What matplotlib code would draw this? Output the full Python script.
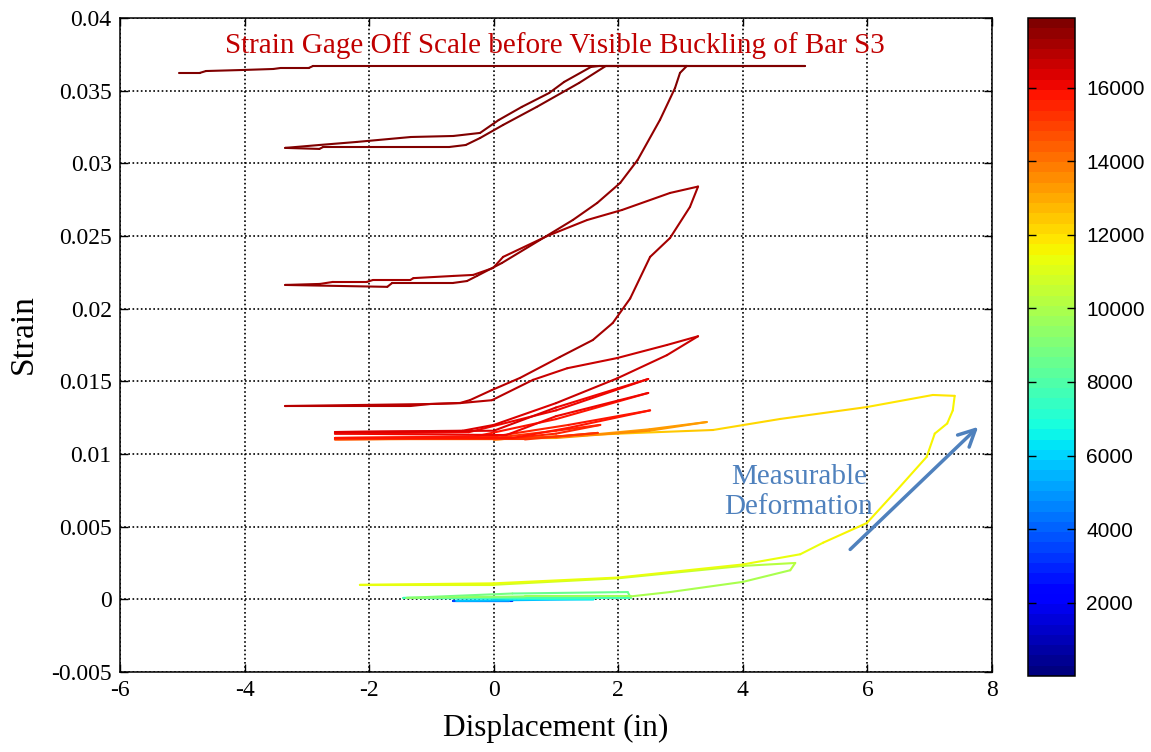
import numpy as np
import matplotlib
matplotlib.use('Agg')
import matplotlib.pyplot as plt
from matplotlib.collections import LineCollection
from matplotlib.colors import Normalize
from matplotlib.cm import ScalarMappable

plt.rcParams['font.family'] = 'Liberation Serif'
plt.rcParams['axes.unicode_minus'] = False

# --- path of the test (displacement in, strain, time step) ---
# early small cycles, blue -> green
early_disp = [0.0, 0.3, -0.65, 0.25, -0.6, 1.6, -1.45, 2.2, 2.15, 0.3, -1.4, 0.5, 2.2]
early_strain = [0.0, -0.0001, -0.0001, -0.0001, -0.0001, 0.0, 0.0001, 0.0001, 0.0005,
                0.0004, 0.0001, 0.0002, 0.0002]
early_step = [0, 1500, 3000, 4200, 5200, 6300, 7300, 8300, 8500, 8800, 9100, 9400, 9700]

# green/yellow loops and the large excursion to 7.4 in
mid_disp = [2.83, 4.0, 4.76, 4.84, 4.0, 2.0, 0.0, -2.15, 0.0, 2.0, 4.0, 4.92, 5.29, 5.99,
            6.47, 6.95, 7.08, 7.28, 7.37, 7.40, 7.05, 5.99, 4.6, 3.52, 2.24, 1.17, 0.0, -2.5]
mid_strain = [0.0005, 0.0012, 0.0020, 0.0025, 0.0023, 0.00145, 0.0010, 0.0010, 0.0011,
              0.0015, 0.0024, 0.0031, 0.0039, 0.00525, 0.0075, 0.0098, 0.0114, 0.0121,
              0.0130, 0.0140, 0.01406, 0.01323, 0.01241, 0.01165, 0.01144, 0.01124,
              0.0110, 0.0110]
mid_step = [9900, 10000, 10100, 10200, 10400, 10700, 10950, 11150, 11250, 11350, 11400,
            11450, 11480, 11520, 11560, 11600, 11640, 11680, 11720, 11760, 11850, 12000,
            12150, 12300, 12450, 12600, 12750, 12900]

# orange and red cycles between -2.5 and 2.5 in
red_disp = [0.0, 1.5, 2.5, 3.42, 2.5, 1.0, -2.55,
            0.0, 1.0, 1.67, 0.5, -2.55,
            0.0, 1.0, 1.71, 1.0, 0.3, -2.55,
            0.0, 1.2, 2.51, 1.2, 0.3, -2.55,
            -0.3, 1.0, 2.48, 1.0, 0.2, -2.55,
            -0.4, 1.0, 2.48, 1.0, 0.0, -2.55]
red_strain = [0.0110, 0.0113, 0.0117, 0.0122, 0.0116, 0.0111, 0.0110,
              0.0110, 0.0112, 0.01145, 0.0110, 0.0110,
              0.0111, 0.0116, 0.0120, 0.0114, 0.0111, 0.0111,
              0.0112, 0.0120, 0.0130, 0.0118, 0.0111, 0.0111,
              0.0112, 0.0124, 0.0142, 0.0126, 0.0113, 0.0114,
              0.0115, 0.0130, 0.01516, 0.0132, 0.0116, 0.01151]
red_step = [13000, 13100, 13200, 13300, 13400, 13550, 13800,
            15000, 15100, 15150, 15200, 15300,
            15350, 15400, 15450, 15480, 15520, 15550,
            15600, 15650, 15700, 15730, 15760, 15800,
            15850, 15900, 15950, 15980, 16010, 16050,
            16100, 16150, 16200, 16230, 16260, 16300]

# large loops, dark red, up to gage limit
big_disp = [-0.5, 0.0, 1.0, 1.98, 2.78, 3.28, 2.78, 1.98, 1.18, 0.63, -0.03, -0.54, -1.0, -3.35,
            -1.34, -1.02, -0.54, -0.38, -0.03, 0.42, 1.06, 1.59, 1.91, 2.19, 2.51, 2.83, 3.15, 3.28,
            2.83, 2.06, 1.5, 0.86, 0.15, -0.01, -0.33, -0.65, -1.29, -1.34, -1.94, -2.04, -2.58,
            -2.79, -3.35,
            -1.71, -1.63, -0.65, -0.43, -0.27, 0.13, 0.74, 1.27, 1.66, 2.03, 2.31, 2.67, 2.91,
            2.99, 3.1]
big_strain = [0.0116, 0.0120, 0.0135, 0.0152, 0.0168, 0.0181, 0.0175, 0.0166, 0.0159, 0.0151,
              0.0137, 0.0135, 0.01344, 0.0133,
              0.0133, 0.01344, 0.01351, 0.01371, 0.0144, 0.01523, 0.01667, 0.01784, 0.01901,
              0.0207, 0.02356, 0.02486, 0.0270, 0.0284,
              0.02796, 0.02679, 0.0261, 0.0250, 0.02356, 0.0228, 0.02232, 0.02225, 0.0221,
              0.02197, 0.02197, 0.02184, 0.02184, 0.0217, 0.02163,
              0.0215, 0.02177, 0.02177, 0.0219, 0.02225, 0.02314, 0.02472, 0.0261, 0.02727,
              0.02865, 0.03023, 0.0330, 0.03518, 0.03622, 0.0367]
big_step = [16350, 16400, 16500, 16600, 16650, 16700, 16720, 16740, 16760, 16780, 16800,
            16820, 16840, 16900,
            16940, 16960, 16980, 17000, 17020, 17040, 17060, 17080, 17100, 17120, 17140, 17160,
            17180, 17200,
            17210, 17220, 17230, 17240, 17250, 17260, 17270, 17280, 17290, 17300, 17310, 17320,
            17330, 17340, 17350,
            17380, 17400, 17420, 17440, 17460, 17480, 17500, 17520, 17540, 17560, 17580, 17600,
            17620, 17640, 17660]

# gage off scale at the top
top_disp = [1.80, 1.37, 0.69, 0.15, -0.22, -0.45, -0.72, -2.74, -2.8, -3.35,
            -2.8, -2.2, -1.33, -0.65, -0.22, 0.08, 0.45, 0.89, 1.13, 1.56, 1.7, 5.0,
            -2.9, -2.97, -3.42, -3.54, -4.04, -4.62, -4.72, -5.05]
top_strain = [0.0367, 0.03553, 0.03388, 0.03264, 0.03174, 0.03126, 0.03112, 0.03112, 0.03099,
              0.03106,
              0.03126, 0.03147, 0.03181, 0.03188, 0.03209, 0.03298, 0.03388, 0.03484, 0.0356,
              0.03663, 0.0367, 0.0367,
              0.0367, 0.03656, 0.03656, 0.03649, 0.03642, 0.03635, 0.03622, 0.03622]
top_step = [17680, 17690, 17700, 17710, 17720, 17730, 17740, 17750, 17760, 17770,
            17780, 17790, 17800, 17805, 17810, 17815, 17820, 17825, 17830, 17835, 17840, 17860,
            17870, 17875, 17880, 17885, 17890, 17895, 17898, 17900]

disp = np.array(early_disp + mid_disp + red_disp + big_disp + top_disp)
strain = np.array(early_strain + mid_strain + red_strain + big_strain + top_strain)
step = np.array(early_step + mid_step + red_step + big_step + top_step, dtype=float)

x_ticks = [-6, -4, -2, 0, 2, 4, 6, 8]
y_ticks = [-0.005, 0, 0.005, 0.01, 0.015, 0.02, 0.025, 0.03, 0.035, 0.04]
y_labels = ['-0.005', '0', '0.005', '0.01', '0.015', '0.02', '0.025', '0.03', '0.035', '0.04']
cb_ticks = [2000, 4000, 6000, 8000, 10000, 12000, 14000, 16000]

fig = plt.figure(figsize=(11.51, 7.52), dpi=100)
ax = fig.add_axes([0.1043, 0.1064, 0.7576, 0.8697])
cax = fig.add_axes([0.8931, 0.101, 0.0408, 0.875])

cmap = plt.get_cmap('jet', 64)
norm = Normalize(vmin=1, vmax=17900)

pts = np.column_stack([disp, strain]).reshape(-1, 1, 2)
segs = np.concatenate([pts[:-1], pts[1:]], axis=1)
lc = LineCollection(segs, cmap=cmap, norm=norm, linewidths=1.5, capstyle='round',
                    joinstyle='round')
lc.set_array((step[:-1] + step[1:]) / 2)
ax.add_collection(lc)

ax.set_xlim(-6, 8)
ax.set_ylim(-0.005, 0.04)
ax.set_xticks(x_ticks)
ax.set_xticklabels([str(v) for v in x_ticks])
ax.set_yticks(y_ticks)
ax.set_yticklabels(y_labels)
ax.tick_params(direction='in', top=True, right=True, length=6, width=1, labelsize=17,
               pad=6)
ax.grid(True, color='k', linestyle=(0, (1, 1.5)), linewidth=1.2)
for s in ax.spines.values():
    s.set_linewidth(1.1)

ax.set_xlabel('Displacement (in)', fontsize=22.5)
ax.set_ylabel('Strain', fontsize=24)
ax.xaxis.set_label_coords(0.5, -0.064)
ax.yaxis.set_label_coords(-0.093, 0.517)

ax.text(0.98, 0.0381, 'Strain Gage Off Scale before Visible Buckling of Bar S3',
        color='#C00000', fontsize=21, ha='center', va='center')
ax.text(4.9, 0.0074, 'Measurable\nDeformation', color='#4F81BD', fontsize=21,
        ha='center', va='center', linespacing=1.2)
ax.annotate('', xy=(7.81, 0.0120), xytext=(5.69, 0.0033),
            arrowprops=dict(arrowstyle='->', color='#4F81BD', lw=2.5, mutation_scale=30))

cb = fig.colorbar(ScalarMappable(norm=norm, cmap=cmap), cax=cax)
cb.set_ticks(cb_ticks)
cb.outline.set_linewidth(1.1)
cax.tick_params(direction='in', left=True, right=True, length=6, width=1, labelsize=15,
                pad=8)
for lab in cax.get_yticklabels():
    lab.set_family('Liberation Sans')

fig.savefig('out.png', dpi=100)
